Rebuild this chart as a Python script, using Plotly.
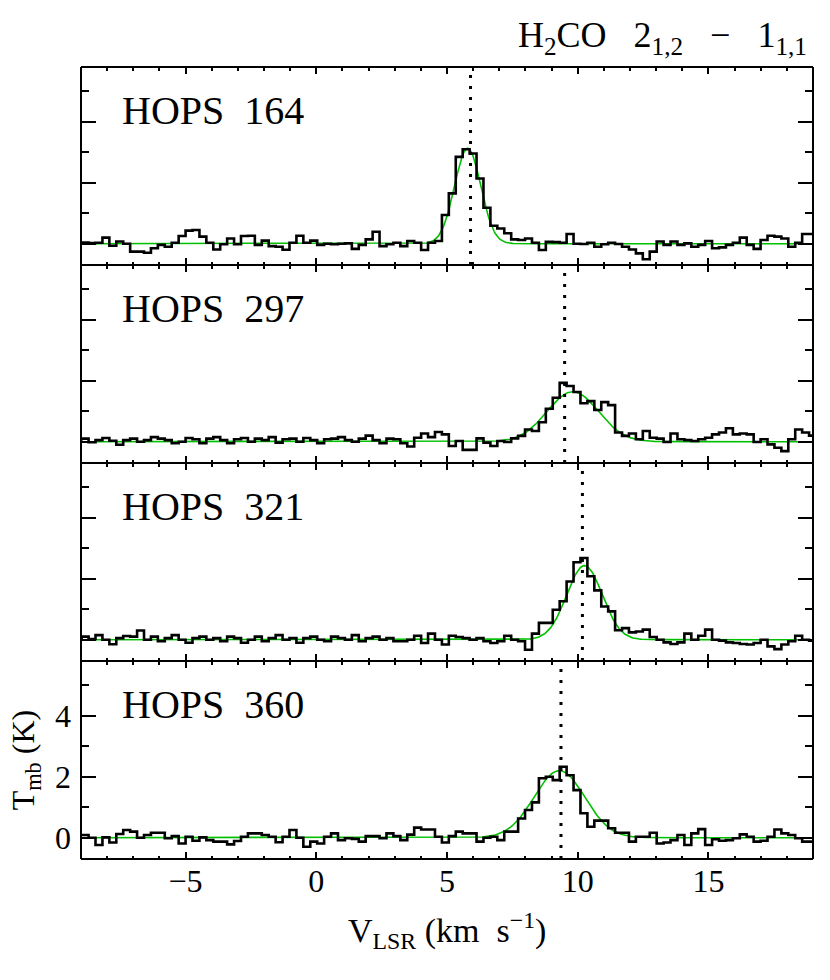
import numpy as np
import plotly.graph_objects as go

# ---------------- data ----------------
sources = ["HOPS 164", "HOPS 297", "HOPS 321", "HOPS 360"]

v_start = -9.1075   # first channel centre (km/s)
dv = 0.265          # channel width (km/s)
n_chan = 107

tmb_164 = [0.03, 0.04, 0.02, 0.03, 0.2, -0.07, 0.07, 0.0, -0.26, -0.26,
           -0.3, -0.15, -0.04, -0.1, 0.03, 0.25, 0.43, 0.45, 0.23, 0.03,
           -0.19, -0.02, 0.17, -0.02, 0.25, 0.26, -0.04, 0.1, -0.08, -0.1,
           -0.2, 0.03, 0.26, 0.03, 0.1, -0.04, 0.0, -0.02, 0.0, 0.01,
           -0.17, -0.04, 0.14, 0.39, -0.08, -0.02, 0.03, -0.08, 0.09, 0.03,
           -0.21, 0.03, 0.09, 0.94, 1.65, 2.85, 3.1, 2.96, 2.14, 1.18,
           0.59, 0.5, 0.34, 0.14, 0.12, 0.17, 0.03, -0.21, 0.06, 0.05,
           0.03, 0.32, 0.0, -0.01, 0.03, -0.1, -0.02, 0.03, -0.01, -0.1,
           -0.19, -0.32, -0.51, -0.26, 0.07, -0.04, 0.07, -0.04, 0.01, -0.1,
           -0.04, 0.09, -0.15, -0.12, -0.04, 0.03, 0.2, -0.04, -0.17, 0.12,
           0.26, 0.23, 0.17, -0.1, 0.03, 0.32, 0.32]

tmb_297 = [0.08, 0.1, -0.02, 0.05, 0.12, 0.03, -0.1, 0.05, 0.1, 0.0,
           0.05, 0.15, 0.1, 0.05, -0.05, 0.0, 0.12, 0.08, -0.05, 0.1,
           0.15, 0.05, -0.05, 0.08, 0.12, 0.0, 0.1, 0.05, 0.15, -0.03,
           0.08, 0.1, 0.0, 0.12, 0.05, -0.05, 0.08, 0.1, 0.15, 0.05,
           0.0, 0.1, 0.2, 0.05, -0.05, 0.1, 0.08, -0.05, -0.16, 0.13,
           0.27, 0.15, 0.32, 0.24, -0.14, 0.02, -0.27, -0.27, 0.11, -0.03,
           -0.14, 0.02, -0.01, 0.11, 0.19, 0.4, 0.35, 0.64, 1.08, 1.44,
           1.93, 1.83, 1.63, 1.26, 1.33, 1.04, 1.3, 1.2, 0.3, 0.19,
           0.27, 0.08, 0.35, 0.13, 0.1, -0.01, 0.27, 0.08, 0.05, 0.02,
           0.08, 0.13, 0.24, 0.3, 0.44, 0.24, 0.27, 0.24, -0.01, 0.08,
           -0.09, -0.2, -0.31, 0.08, 0.4, 0.3, 0.2]

tmb_321 = [0.05, 0.1, 0.02, 0.15, 0.0, -0.15, 0.05, 0.12, 0.1, 0.3,
           0.0, 0.1, -0.05, 0.05, 0.15, 0.0, -0.1, 0.05, 0.1, 0.0,
           0.05, -0.05, 0.1, 0.05, -0.1, 0.0, 0.1, -0.05, 0.05, 0.15,
           0.0, 0.05, -0.1, 0.05, 0.1, 0.0, -0.05, 0.1, 0.05, 0.0,
           0.15, -0.05, 0.05, 0.1, 0.0, 0.05, -0.05, -0.05, 0.0, 0.13,
           -0.11, 0.2, 0.0, -0.16, 0.13, 0.09, 0.05, 0.0, 0.05, -0.05,
           -0.11, -0.05, 0.13, 0.0, -0.05, -0.33, 0.2, 0.55, 0.55, 0.98,
           1.26, 1.91, 2.54, 2.68, 2.08, 1.62, 1.09, 0.93, 0.31, 0.38,
           0.24, 0.27, 0.33, 0.09, 0.0, -0.09, -0.14, -0.09, 0.2, 0.0,
           0.13, 0.33, 0.0, -0.03, -0.09, -0.11, -0.14, -0.16, -0.11, 0.0,
           -0.22, -0.31, -0.16, -0.05, 0.13, 0.0, -0.03]

tmb_360 = [0.09, 0.09, 0.0, -0.24, 0.01, -0.16, 0.12, 0.25, 0.2, 0.0,
           0.09, 0.16, 0.16, -0.02, 0.05, -0.19, 0.03, -0.1, 0.01, -0.08,
           -0.13, -0.13, -0.22, -0.11, 0.03, 0.14, 0.14, 0.09, 0.03, -0.15,
           0.03, 0.25, 0.0, -0.3, -0.13, -0.19, 0.03, 0.14, -0.08, -0.02,
           -0.04, -0.13, 0.05, 0.05, -0.02, 0.14, 0.05, -0.08, 0.1, 0.33,
           0.27, 0.27, 0.03, -0.16, 0.05, 0.2, 0.14, 0.14, -0.13, 0.0,
           0.03, -0.08, 0.2, 0.2, 0.63, 0.91, 1.16, 1.95, 2.0, 1.89,
           2.33, 2.05, 1.56, 0.8, 0.36, 0.56, 0.56, 0.31, 0.16, 0.16,
           -0.13, 0.03, 0.03, 0.16, -0.19, -0.16, -0.08, 0.09, -0.24, 0.14,
           0.28, -0.24, -0.05, -0.1, -0.08, -0.02, 0.11, 0.03, -0.13, -0.1,
           0.03, 0.27, 0.14, 0.09, -0.02, -0.13, -0.13]

spectra = [tmb_164, tmb_297, tmb_321, tmb_360]

# systemic velocities (dotted lines)
v_sys = [5.9, 9.5, 10.18, 9.36]
# Gaussian fit parameters
fit_amp = [3.13, 1.64, 2.43, 2.2]
fit_center = [5.79, 9.81, 10.26, 9.3]
fit_sigma = [0.5, 0.98, 0.68, 0.97]

x_range = [-9, 19]
y_range = [-0.7, 5.8]
y_ticks = [0, 2, 4]
x_ticks = [-5, 0, 5, 10, 15]

# ---------------- figure ----------------
FONT = "Liberation Serif, Times New Roman, serif"
velocity = v_start + dv * np.arange(n_chan)
v_fine = np.linspace(x_range[0], x_range[1], 600)

fig = go.Figure()
n = len(sources)
for k in range(n):
    ax = "" if k == 0 else str(k + 1)
    xr, yr = "x" + ax, "y" + ax
    g = fit_amp[k] * np.exp(-0.5 * ((v_fine - fit_center[k]) / fit_sigma[k]) ** 2)
    fig.add_trace(go.Scatter(x=v_fine, y=g, mode="lines",
                             line=dict(color="#00c000", width=1.6),
                             xaxis=xr, yaxis=yr, showlegend=False, hoverinfo="skip"))
    fig.add_trace(go.Scatter(x=velocity, y=spectra[k], mode="lines",
                             line=dict(color="black", width=2.6, shape="hvh"),
                             xaxis=xr, yaxis=yr, showlegend=False))
    fig.add_shape(type="line", xref=xr, yref=yr + " domain",
                  x0=v_sys[k], x1=v_sys[k], y0=0, y1=1,
                  line=dict(color="black", width=3, dash="3px,8px"))
    fig.add_annotation(text=sources[k].replace(" ", "\u2002"), xref=xr + " domain", yref=yr + " domain",
                       x=0.053, y=0.78, xanchor="left", yanchor="middle", showarrow=False,
                       font=dict(family=FONT, size=40, color="black"))
    top = 1 - k / n
    bot = 1 - (k + 1) / n
    last = (k == n - 1)
    fig.update_layout({
        "xaxis" + ax: dict(domain=[0, 1], range=x_range, anchor=yr,
                           showline=False, mirror="ticks",
                           ticks="inside", ticklen=7, tickwidth=2, tickcolor="black",
                           tickvals=x_ticks, showticklabels=last,
                           minor=dict(ticks="inside", dtick=1, tick0=0, ticklen=3.5,
                                      tickwidth=1.5, tickcolor="black", showgrid=False),
                           showgrid=False, zeroline=False,
                           tickfont=dict(family=FONT, size=32, color="black")),
        "yaxis" + ax: dict(domain=[bot, top], range=y_range, anchor=xr,
                           showline=False, mirror="ticks",
                           ticks="inside", ticklen=15, tickwidth=2, tickcolor="black",
                           tickvals=y_ticks, showticklabels=last, ticklabelstandoff=9,
                           minor=dict(ticks="inside", dtick=1, tick0=0, ticklen=8,
                                      tickwidth=2, tickcolor="black", showgrid=False),
                           showgrid=False, zeroline=False,
                           tickfont=dict(family=FONT, size=32, color="black")),
    })

# frame: outer box and panel dividers
for yb in [0, 0.25, 0.5, 0.75, 1.0]:
    fig.add_shape(type="line", xref="paper", yref="paper", x0=0, x1=1, y0=yb, y1=yb,
                  line=dict(color="black", width=2))
for xb in [0, 1]:
    fig.add_shape(type="line", xref="paper", yref="paper", x0=xb, x1=xb, y0=0, y1=1,
                  line=dict(color="black", width=2))

fig.add_annotation(text="H<sub>2</sub>CO\u2002 2<sub>1,2</sub> \u2002\u2212\u2002 1<sub>1,1</sub>",
                   xref="paper", yref="paper", x=0.995, y=1.037,
                   xanchor="right", yanchor="middle", showarrow=False,
                   font=dict(family=FONT, size=36, color="black"))
fig.add_annotation(text="V<sub>LSR</sub> (km\u2002s<sup>\u22121</sup>)",
                   xref="paper", yref="paper", x=0.5, y=-0.09,
                   xanchor="center", yanchor="middle", showarrow=False,
                   font=dict(family=FONT, size=34, color="black"))
fig.add_annotation(text="T<sub>mb</sub> (K)", textangle=-90,
                   xref="paper", yref="paper", x=-0.076, y=0.125,
                   xanchor="center", yanchor="middle", showarrow=False,
                   font=dict(family=FONT, size=32, color="black"))

fig.update_layout(width=822, height=972,
                  margin=dict(l=73, r=17, t=59, b=121),
                  paper_bgcolor="white", plot_bgcolor="white")

fig.write_html("out.html")
